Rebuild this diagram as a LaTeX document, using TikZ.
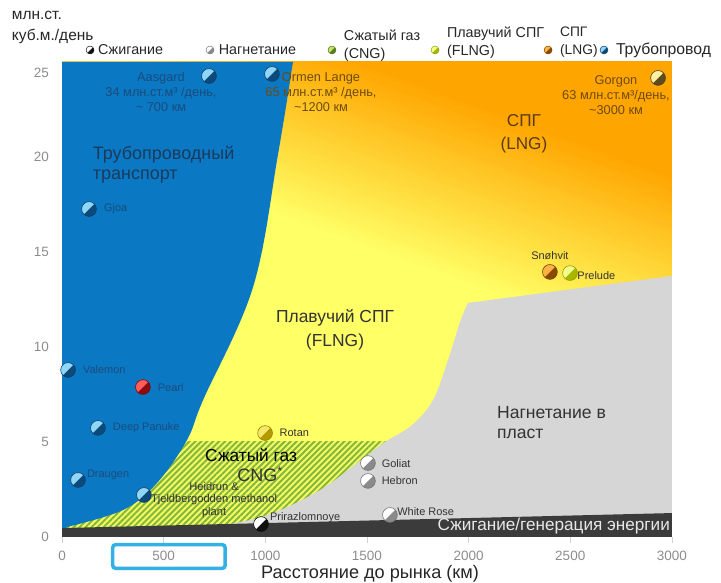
\documentclass[tikz,border=0pt]{standalone}
\usepackage{fontspec}
\setmainfont{Liberation Sans}
\usepackage{tikz}
\usetikzlibrary{positioning,patterns.meta}
% region colours
\definecolor{pipeblue}{HTML}{0A78C3}
\definecolor{lngorange}{HTML}{FFA500}
\definecolor{flngyellow}{HTML}{FFFF66}
\definecolor{cngyellow}{HTML}{F4FA62}
\definecolor{cnggreen}{HTML}{84B63C}
\definecolor{injgrey}{HTML}{D6D6D6}
\definecolor{flaredark}{HTML}{3B3B3B}
% text colours
\definecolor{bandtext}{HTML}{E8E8E8}
\definecolor{tickgrey}{HTML}{8C8C8C}
\definecolor{legtext}{HTML}{262626}
\definecolor{darktext}{HTML}{333333}
\definecolor{bluetext}{HTML}{1B4C7C}
\definecolor{pipetext}{HTML}{1A3B5E}
\definecolor{lngtext}{HTML}{5C3A17}
\definecolor{browntext}{HTML}{6E4A10}
\definecolor{hlblue}{HTML}{33B1E6}
% marker colours
\definecolor{pipelight}{HTML}{8FD6F7}\definecolor{pipedark}{HTML}{0D4A7C}
\definecolor{gtllight}{HTML}{FF5C5C}\definecolor{gtldark}{HTML}{8E0B0B}
\definecolor{injlight}{HTML}{FFFFFF}\definecolor{injdark}{HTML}{8A8A8A}
\definecolor{flarelight}{HTML}{FFFFFF}\definecolor{flaredot}{HTML}{111111}
\definecolor{cnglight}{HTML}{C8E36A}\definecolor{cngdark}{HTML}{55801A}
\definecolor{flnglight}{HTML}{F2FF8C}\definecolor{flngdark}{HTML}{A9B600}
\definecolor{rotanlight}{HTML}{F5E86A}\definecolor{rotandark}{HTML}{B39A00}
\definecolor{lnglight}{HTML}{FFB347}\definecolor{lngdark}{HTML}{8A4B00}
\definecolor{gorgonlight}{HTML}{FFF0A0}\definecolor{gorgondark}{HTML}{5E4B1E}

\begin{document}
\begin{tikzpicture}
	[x=5.0825cm, y=0.475cm,
	% STYLES
	every node/.style={inner sep=0pt, outer sep=0pt},
	% The fielddot style draws the two-tone marker of a field
	fielddot/.style 2 args={circle, minimum size=0.37cm, fill=#2, draw=#2!85!black, line width=0.4pt,
		path picture={\fill[#1] (path picture bounding box.south west) -- (path picture bounding box.north east) -- (path picture bounding box.north west) -- cycle;}},
	keydot/.style={minimum size=0.2cm, line width=0.3pt},
	% texts
	tag/.style={font=\fontsize{7.8}{9}\selectfont, text=darktext, anchor=west},
	field/.style={font=\fontsize{9.1}{10.7}\selectfont, align=center},
	big/.style={font=\fontsize{12.4}{17}\selectfont, text=darktext, align=center},
	legendtext/.style={font=\fontsize{10.2}{12.8}\selectfont, text=legtext, anchor=west, align=left},
	ticklabel/.style={font=\fontsize{9.6}{11}\selectfont, text=tickgrey}]
	\useasboundingbox (-0.305,-2.421) rectangle (3.2415,28.263);
	
	% Draw regions
	\begin{scope}
		\clip (0,0) rectangle (3,25);
		\fill[flngyellow] (0,0) rectangle (3,25);
		% LNG fades into FLNG
		\begin{scope}[shift={(1.81,18.79)}, x=1cm, y=1cm, rotate=-20]
			\foreach \i in {0,...,43} {
				\pgfmathtruncatemacro\pc{\i*100/43}
				\fill[lngorange!\pc!flngyellow] (-16,-2.2+\i*0.1) rectangle (16,-2.09+\i*0.1);
			}
			\fill[lngorange] (-16,2.2) rectangle (16,16);
		\end{scope}
		% CNG stripes
		\fill[cngyellow] (0,0) rectangle (3,5.05);
		\fill[pattern={Lines[angle=45, distance=3pt, line width=1.4pt]}, pattern color=cnggreen] (0,0) rectangle (3,5.05);
	\end{scope}
	% pipeline
	\fill[pipeblue] (0,0) -- (0,25) -- (1.136,25) -- plot[smooth, tension=0.6] coordinates {(1.136,25) (1.062,20.11) (0.94,13.16) (0.694,7.21) (0.615,5.11) (0.467,2.84) (0.3,1.42) (0.025,0.53)} -- (0,0.3) -- cycle;
	% injection
	\fill[injgrey] (3,0) -- (3,13.74) -- (1.997,12.32) -- plot[smooth, tension=0.6] coordinates {(1.997,12.32) (1.958,11.32) (1.899,9.32) (1.825,7.21) (1.722,5.89) (1.589,5.0) (1.451,3.89) (1.269,2.47) (1.038,1.26) (0.826,0.68) (0.6,0.35)} -- (0.6,0) -- cycle;
	% flaring
	\fill[flaredark] (0,0) -- (3,0) -- (3,1.26) -- (0,0.47) -- cycle;
	
	% Axes
	\foreach \x in {0,0.5,...,3}
		\draw[tickgrey!40, line width=0.4pt] (\x,0) -- (\x,-0.3);
	\foreach \x/\t in {0/0, 0.5/500, 1/1000, 1.5/1500, 2/2000, 2.5/2500, 3/3000}
		\node [ticklabel] (xt\t) at (\x,-1.0) {\t};
	\foreach \y/\t in {0/0, 5/5, 10/10, 15/15, 20/20, 24.42/25}
		\node [ticklabel, anchor=east] (yt\t) at (-0.064,\y) {\t};
	\node [draw=hlblue, line width=2.5pt, rounded corners=2pt, minimum width=2.81cm, minimum height=0.59cm] (hlbox) at (0.526,-1.026) {};
	\node [font=\fontsize{12.9}{15}\selectfont, text=legtext] (xtitle) at (1.515,-1.95) {Расстояние до рынка (км)};
	\node [font=\fontsize{11}{15}\selectfont, text=legtext, anchor=west, align=left] (ytitle) at (-0.246,26.83) {млн.ст.\\куб.м./день};
	
	% Legend
	\node [fielddot={flarelight}{flaredot}, keydot] (k-flare) at (0.138,25.63) {};
	\node [legendtext, right=0.1cm of k-flare] (t-flare) {Сжигание};
	\node [fielddot={injlight}{injdark}, keydot] (k-inj) at (0.728,25.63) {};
	\node [legendtext, right=0.12cm of k-inj] (t-inj) {Нагнетание};
	\node [fielddot={cnglight}{cngdark}, keydot] (k-cng) at (1.328,25.63) {};
	\node [legendtext, right=0.2cm of k-cng, yshift=0.1cm] (t-cng) {Сжатый газ\\(CNG)};
	\node [fielddot={flnglight}{flngdark}, keydot] (k-flng) at (1.835,25.63) {};
	\node [legendtext, right=0.2cm of k-flng, yshift=0.19cm] (t-flng) {Плавучий СПГ\\(FLNG)};
	\node [fielddot={lnglight}{lngdark}, keydot] (k-lng) at (2.391,25.63) {};
	\node [legendtext, right=0.2cm of k-lng, yshift=0.19cm, font=\fontsize{9.8}{12.8}\selectfont] (t-lng) {СПГ\\(LNG)};
	\node [fielddot={pipelight}{pipedark}, keydot] (k-pipe) at (2.666,25.63) {};
	\node [legendtext, right=0.2cm of k-pipe, font=\fontsize{11.2}{13}\selectfont] (t-pipe) {Трубопровод};
	
	% Region names
	\node [big, text=pipetext, align=left, anchor=west, font=\fontsize{12.8}{14.2}\selectfont] (pipe) at (0.152,19.58) {Трубопроводный\\транспорт};
	\node [big, text=lngtext, font=\fontsize{12.2}{16.4}\selectfont] (lng) at (2.272,21.21) {СПГ\\(LNG)};
	\node [big] (flng) at (1.343,10.89) {Плавучий СПГ\\(FLNG)};
	\node [big, align=left, anchor=west, font=\fontsize{12.5}{14.2}\selectfont] (inject) at (2.140,6.0) {Нагнетание в\\пласт};
	\node [big, text=black, font=\fontsize{12.3}{14}\selectfont] (cng) at (0.930,4.30) {Сжатый газ};
	\node [big, font=\fontsize{12.8}{14}\selectfont] (cng-en) at (0.975,3.30) {CNG\textsuperscript{*}};
	\node [anchor=east, font=\fontsize{12.2}{14}\selectfont, text=bandtext] (flare) at (2.99,0.58) {Сжигание/генерация энергии};
	
	% Draw fields
	\node [fielddot={pipelight}{pipedark}] (aasgard) at (0.723,24.26) {};
	\node [field, text=bluetext] (lbl-aasgard) at (0.487,23.42) {Aasgard\\34 млн.ст.м³ /день,\\\textasciitilde{} 700 км};
	\node [fielddot={pipelight}{pipedark}] (ormen) at (1.033,24.37) {};
	\node [field, text=browntext] (lbl-ormen) at (1.274,23.42) {Ormen Lange\\65 млн.ст.м³ /день,\\\textasciitilde1200 км};
	\node [fielddot={gorgonlight}{gorgondark}] (gorgon) at (2.932,24.16) {};
	\node [field, text=browntext] (lbl-gorgon) at (2.725,23.26) {Gorgon\\63 млн.ст.м³/день,\\\textasciitilde3000 км};
	\node [fielddot={pipelight}{pipedark}] (gjoa) at (0.133,17.26) {};
	\node [tag, text=bluetext, right=0.19cm of gjoa] (lbl-gjoa) {Gjoa};
	\node [fielddot={lnglight}{lngdark}] (snohvit) at (2.400,13.95) {};
	\node [tag, anchor=south, above=0.12cm of snohvit] (lbl-snohvit) {Snøhvit};
	\node [fielddot={flnglight}{flngdark}] (prelude) at (2.499,13.89) {};
	\node [tag, right=0cm of prelude, yshift=-0.05cm] (lbl-prelude) {Prelude};
	\node [fielddot={pipelight}{pipedark}] (valemon) at (0.030,8.79) {};
	\node [tag, text=bluetext, right=0.19cm of valemon] (lbl-valemon) {Valemon};
	\node [fielddot={gtllight}{gtldark}] (pearl) at (0.398,7.89) {};
	\node [tag, text=bluetext, right=0.19cm of pearl] (lbl-pearl) {Pearl};
	\node [fielddot={pipelight}{pipedark}] (panuke) at (0.177,5.74) {};
	\node [tag, text=bluetext, right=0.19cm of panuke] (lbl-panuke) {Deep Panuke};
	\node [fielddot={rotanlight}{rotandark}] (rotan) at (0.999,5.47) {};
	\node [tag, right=0.18cm of rotan] (lbl-rotan) {Rotan};
	\node [fielddot={injlight}{injdark}] (goliat) at (1.505,3.89) {};
	\node [tag, right=0.16cm of goliat] (lbl-goliat) {Goliat};
	\node [fielddot={injlight}{injdark}] (hebron) at (1.505,2.95) {};
	\node [tag, right=0.16cm of hebron] (lbl-hebron) {Hebron};
	\node [fielddot={pipelight}{pipedark}] (draugen) at (0.079,3.0) {};
	\node [tag, text=bluetext, right=0.04cm of draugen, yshift=0.12cm] (lbl-draugen) {Draugen};
	\node [fielddot={pipelight}{pipedark}] (heidrun) at (0.403,2.21) {};
	\node [tag, anchor=center, align=center, font=\fontsize{7.9}{8.9}\selectfont] (lbl-heidrun) at (0.748,1.95) {Heidrun \&\\Tjeldbergodden methanol\\plant};
	\node [fielddot={flarelight}{flaredot}] (prirazlomnoye) at (0.979,0.68) {};
	\node [tag, right=0.04cm of prirazlomnoye, yshift=0.17cm] (lbl-prirazlomnoye) {Prirazlomnoye};
	\node [fielddot={injlight}{injdark}] (whiterose) at (1.613,1.16) {};
	\node [tag, right=0cm of whiterose, yshift=0.08cm] (lbl-whiterose) {White Rose};
\end{tikzpicture}
\end{document}
